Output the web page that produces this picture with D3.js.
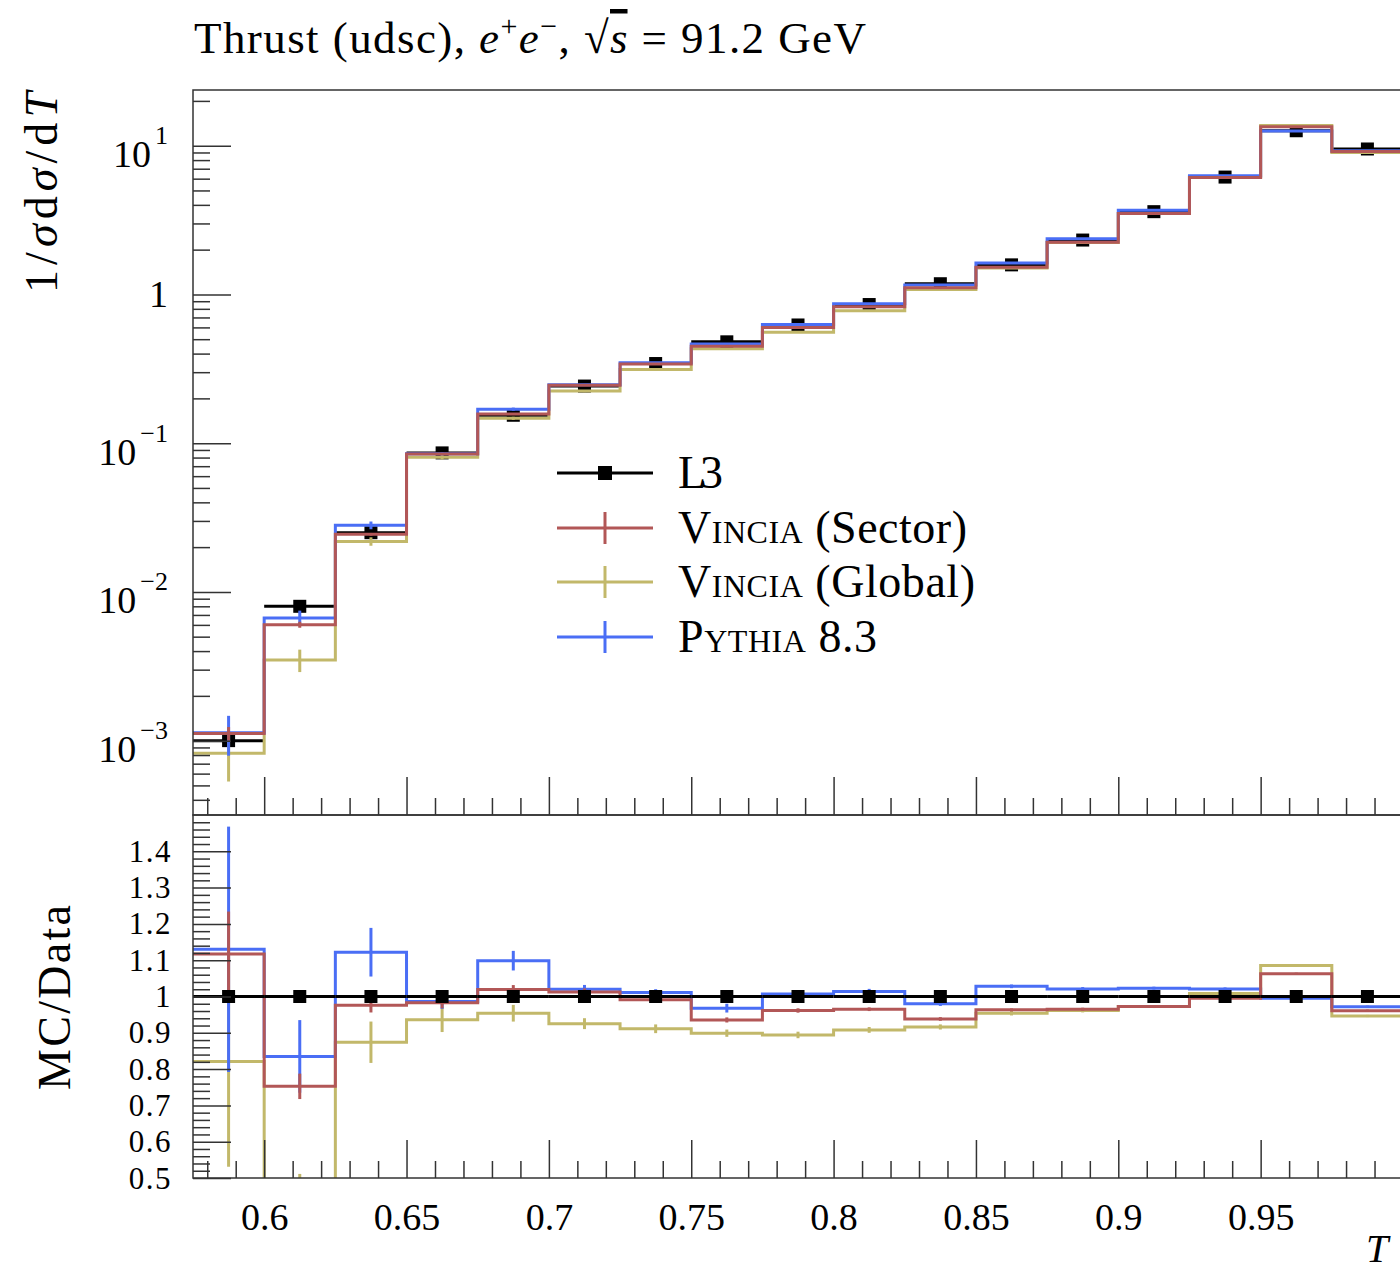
<!DOCTYPE html>
<html><head><meta charset="utf-8">
<script src="https://cdn.jsdelivr.net/npm/d3@7"></script>
<style>
html,body{margin:0;padding:0;background:#fff;}
svg text{font-family:"Liberation Serif","DejaVu Serif",serif;fill:#000;}
</style></head><body>
<svg id="chart" width="1400" height="1277"></svg>
<script>
// ---------- data ----------
const binEdges = [0.575, 0.6, 0.625, 0.65, 0.675, 0.7, 0.725, 0.75, 0.775, 0.8, 0.825, 0.85, 0.875, 0.9, 0.925, 0.95, 0.975, 1.0];
const l3Values   = [0.00100, 0.0080, 0.0250, 0.0860, 0.154, 0.242, 0.343, 0.480, 0.623, 0.855, 1.18, 1.58, 2.32, 3.60, 6.15, 12.6, 9.50];
const l3Errors   = [0.000015, 0.00012, 0.0004, 0.0013, 0.0023, 0.0036, 0.005, 0.007, 0.009, 0.012, 0.017, 0.022, 0.03, 0.05, 0.08, 0.17, 0.13];
const sectorValues = [0.001117, 0.00602, 0.0244, 0.0845, 0.157, 0.245, 0.340, 0.449, 0.599, 0.825, 1.107, 1.522, 2.239, 3.50, 6.12, 13.39, 9.13];
const sectorErrors = [0.000117, 0.00028, 0.0005, 0.00129, 0.00185, 0.00242, 0.00274, 0.00336, 0.00374, 0.00428, 0.0059, 0.0063, 0.0093, 0.0108, 0.0185, 0.0378, 0.0285];
const globalValues = [0.000821, 0.00349, 0.02185, 0.0805, 0.1469, 0.2239, 0.3125, 0.4315, 0.557, 0.7763, 1.081, 1.507, 2.230, 3.50, 6.20, 13.68, 8.99];
const globalErrors = [0.00029, 0.0006, 0.001425, 0.00292, 0.00354, 0.00363, 0.00412, 0.0048, 0.0056, 0.00684, 0.00826, 0.0095, 0.0116, 0.0144, 0.0246, 0.0378, 0.0285];
const pythiaValues = [0.00113, 0.00668, 0.02805, 0.0848, 0.1692, 0.2468, 0.3468, 0.4646, 0.6274, 0.867, 1.1564, 1.6242, 2.3687, 3.6828, 6.279, 12.537, 9.234];
const pythiaErrors = [0.000338, 0.0008, 0.001675, 0.00172, 0.00416, 0.0029, 0.0031, 0.0058, 0.005, 0.006, 0.0071, 0.0079, 0.0116, 0.0144, 0.0246, 0.0378, 0.0285];

const xTickValues = [0.6, 0.65, 0.7, 0.75, 0.8, 0.85, 0.9, 0.95];
const xTickLabels = ["0.6", "0.65", "0.7", "0.75", "0.8", "0.85", "0.9", "0.95"];
const yTickValues = [1e-3, 1e-2, 1e-1, 1, 10];
const yTickBase   = ["10", "10", "10", "1", "10"];
const yTickSup    = ["\u22123", "\u22122", "\u22121", "", "1"];
const rTickValues = [0.5, 0.6, 0.7, 0.8, 0.9, 1.0, 1.1, 1.2, 1.3, 1.4];
const rTickLabels = ["0.5", "0.6", "0.7", "0.8", "0.9", "1", "1.1", "1.2", "1.3", "1.4"];

const legendNames = ["L3", "Vincia", "Vincia", "Pythia"];
const legendSuffix = ["", " (Sector)", " (Global)", " 8.3"];

// ---------- layout ----------
const X0 = 193, X1 = 1403, MT = 90, MB = 815, RT = 815, RB = 1178;
const COL = {sector: "#b25757", global: "#c2b86a", pythia: "#4a6ef5", data: "#000", frame: "#333"};

const svg = d3.select("#chart");
svg.append("rect").attr("width", 1400).attr("height", 1277).attr("fill", "#fff");

const x = d3.scaleLinear().domain([binEdges[0], binEdges[binEdges.length - 1]]).range([X0, X1]);
const y = d3.scaleLog().domain([Math.pow(10, -3.5), Math.pow(10, 1.3743)]).range([MB, MT]);
const r = d3.scaleLinear().domain([0.5, 1.5]).range([RB, RT]);

const defs = svg.append("defs");
defs.append("clipPath").attr("id", "clipMain").append("rect").attr("x", X0).attr("y", MT).attr("width", X1 - X0).attr("height", MB - MT);
defs.append("clipPath").attr("id", "clipRatio").append("rect").attr("x", X0).attr("y", RT).attr("width", X1 - X0).attr("height", RB - RT);

const nb = l3Values.length;
const centers = d3.range(nb).map(i => (binEdges[i] + binEdges[i + 1]) / 2);

function stepPath(vals, sy) {
  const pts = vals.map((v, i) => [binEdges[i], v]);
  pts.push([binEdges[nb], vals[nb - 1]]);
  return d3.line().x(d => x(d[0])).y(d => sy(d[1])).curve(d3.curveStepAfter)(pts);
}

function drawMC(g, vals, errs, sy, color) {
  g.append("path").attr("d", stepPath(vals, sy)).attr("fill", "none").attr("stroke", color).attr("stroke-width", 3);
  g.selectAll(null).data(vals).enter().append("line")
    .attr("x1", (d, i) => x(centers[i])).attr("x2", (d, i) => x(centers[i]))
    .attr("y1", (d, i) => sy(Math.max(d - errs[i], 1e-9))).attr("y2", (d, i) => sy(d + errs[i]))
    .attr("stroke", color).attr("stroke-width", 3);
}

function drawData(g, vals, errs, sy) {
  g.selectAll(null).data(vals).enter().append("line")
    .attr("x1", (d, i) => x(binEdges[i])).attr("x2", (d, i) => x(binEdges[i + 1]))
    .attr("y1", d => sy(d)).attr("y2", d => sy(d))
    .attr("stroke", COL.data).attr("stroke-width", 3);
  g.selectAll(null).data(vals).enter().append("line")
    .attr("x1", (d, i) => x(centers[i])).attr("x2", (d, i) => x(centers[i]))
    .attr("y1", (d, i) => sy(d - errs[i])).attr("y2", (d, i) => sy(d + errs[i]))
    .attr("stroke", COL.data).attr("stroke-width", 3);
  g.selectAll(null).data(vals).enter().append("rect")
    .attr("x", (d, i) => x(centers[i]) - 6.5).attr("y", d => sy(d) - 6.5)
    .attr("width", 13).attr("height", 13).attr("fill", COL.data);
}

// ---------- main panel ----------
const gMain = svg.append("g").attr("clip-path", "url(#clipMain)");
drawData(gMain, l3Values, l3Errors, y);
drawMC(gMain, globalValues, globalErrors, y, COL.global);
drawMC(gMain, pythiaValues, pythiaErrors, y, COL.pythia);
drawMC(gMain, sectorValues, sectorErrors, y, COL.sector);

// ---------- ratio panel ----------
const gRatio = svg.append("g").attr("clip-path", "url(#clipRatio)");
const ratio = (vals) => vals.map((v, i) => v / l3Values[i]);
const ratioErr = (errs) => errs.map((e, i) => e / l3Values[i]);
drawMC(gRatio, ratio(globalValues), ratioErr(globalErrors), r, COL.global);
drawMC(gRatio, ratio(pythiaValues), ratioErr(pythiaErrors), r, COL.pythia);
drawMC(gRatio, ratio(sectorValues), ratioErr(sectorErrors), r, COL.sector);
drawData(gRatio, ratio(l3Values), ratioErr(l3Errors), r);

// ---------- axes ----------
const axStyle = g => { g.selectAll("path.domain").remove(); g.selectAll(".tick line").attr("stroke", COL.frame).attr("stroke-width", 1.5); };

// main y minor ticks
const logMinor = [];
for (let k = -4; k <= 1; k++) for (let m = 2; m <= 9; m++) { const v = m * Math.pow(10, k); if (v > y.domain()[0] && v < y.domain()[1]) logMinor.push(v); }
svg.append("g").attr("transform", `translate(${X0},0)`)
  .call(d3.axisLeft(y).tickValues(logMinor).tickSizeInner(-17).tickSizeOuter(0).tickFormat(""))
  .call(axStyle);
const yAx = svg.append("g").attr("transform", `translate(${X0},0)`)
  .call(d3.axisLeft(y).tickValues(yTickValues).tickSizeInner(-38).tickSizeOuter(0).tickPadding(25).tickFormat(""))
  .call(axStyle);
yAx.selectAll(".tick").each(function (d, i) {
  const t = d3.select(this).select("text").attr("dy", null).attr("font-size", 38).attr("text-anchor", "end");
  t.text(null);
  if (yTickSup[i] === "") {
    t.attr("y", 12.5).text(yTickBase[i]);
  } else {
    t.attr("y", 21);
    t.append("tspan").text(yTickBase[i]);
    t.append("tspan").attr("dx", 4).attr("dy", -23).attr("font-size", 26).text(yTickSup[i]);
  }
});

// x minor ticks (0.01 spacing)
const xMinor = d3.range(58, 100).filter(v => v % 5 !== 0).map(v => v / 100);
[MB, RB].forEach(yy => {
  svg.append("g").attr("transform", `translate(0,${yy})`)
    .call(d3.axisBottom(x).tickValues(xMinor).tickSizeInner(-17).tickSizeOuter(0).tickFormat(""))
    .call(axStyle);
});
svg.append("g").attr("transform", `translate(0,${MB})`)
  .call(d3.axisBottom(x).tickValues(xTickValues).tickSizeInner(-38).tickSizeOuter(0).tickFormat(""))
  .call(axStyle);
const xAx = svg.append("g").attr("transform", `translate(0,${RB})`)
  .call(d3.axisBottom(x).tickValues(xTickValues).tickSizeInner(-38).tickSizeOuter(0).tickFormat((d, i) => xTickLabels[i]))
  .call(axStyle);
xAx.selectAll(".tick text").attr("font-size", 38).attr("dy", null).attr("y", 52);

// ratio y ticks
const rMinor = d3.range(50, 151, 2).filter(v => v % 10 !== 0).map(v => v / 100);
svg.append("g").attr("transform", `translate(${X0},0)`)
  .call(d3.axisLeft(r).tickValues(rMinor).tickSizeInner(-17).tickSizeOuter(0).tickFormat(""))
  .call(axStyle);
const rAx = svg.append("g").attr("transform", `translate(${X0},0)`)
  .call(d3.axisLeft(r).tickValues(rTickValues).tickSizeInner(-38).tickSizeOuter(0).tickPadding(21).tickFormat((d, i) => rTickLabels[i]))
  .call(axStyle);
rAx.selectAll(".tick text").attr("font-size", 31).attr("dy", null).attr("y", 10).attr("letter-spacing", 1.5);

// frames
svg.append("rect").attr("x", X0).attr("y", MT).attr("width", X1 - X0).attr("height", MB - MT).attr("fill", "none").attr("stroke", COL.frame).attr("stroke-width", 1.5);
svg.append("rect").attr("x", X0).attr("y", RT).attr("width", X1 - X0).attr("height", RB - RT).attr("fill", "none").attr("stroke", COL.frame).attr("stroke-width", 1.5);

// ---------- titles ----------
const title = svg.append("text").attr("x", 194).attr("y", 53).attr("font-size", 45).attr("textLength", 672).attr("lengthAdjust", "spacing");
title.append("tspan").text("Thrust (udsc), ");
title.append("tspan").attr("font-style", "italic").text("e");
title.append("tspan").attr("dy", -17).attr("font-size", 30).text("+");
title.append("tspan").attr("dy", 17).attr("font-style", "italic").text("e");
title.append("tspan").attr("dy", -17).attr("font-size", 30).text("\u2212");
title.append("tspan").attr("dy", 17).text(", \u221A");
title.append("tspan").attr("font-style", "italic").style("text-decoration", "overline").text("s");
title.append("tspan").text(" = 91.2 GeV");

const yl = svg.append("text").attr("transform", "translate(57,192.5) rotate(-90)").attr("text-anchor", "middle")
  .attr("font-size", 46).attr("textLength", 201).attr("lengthAdjust", "spacing");
yl.append("tspan").text("1/");
yl.append("tspan").attr("font-style", "italic").text("\u03C3");
yl.append("tspan").text("d");
yl.append("tspan").attr("font-style", "italic").text("\u03C3");
yl.append("tspan").text("/d");
yl.append("tspan").attr("font-style", "italic").text("T");

svg.append("text").attr("transform", "translate(70,997.5) rotate(-90)").attr("text-anchor", "middle")
  .attr("font-size", 46).attr("textLength", 185).attr("lengthAdjust", "spacing").text("MC/Data");

svg.append("text").attr("x", 1366).attr("y", 1262).attr("font-size", 40).attr("font-style", "italic").text("T");

// ---------- legend ----------
const legRowY = [473, 528, 582, 637];
const legColors = [COL.data, COL.sector, COL.global, COL.pythia];
const legWidths = [45, 289, 297, 199];
const leg = svg.append("g");
legRowY.forEach((yy, i) => {
  leg.append("line").attr("x1", 557).attr("x2", 653).attr("y1", yy).attr("y2", yy).attr("stroke", legColors[i]).attr("stroke-width", 3);
  if (i === 0) {
    leg.append("rect").attr("x", 605 - 7).attr("y", yy - 7).attr("width", 14).attr("height", 14).attr("fill", COL.data);
  } else {
    leg.append("line").attr("x1", 605).attr("x2", 605).attr("y1", yy - 16).attr("y2", yy + 16).attr("stroke", legColors[i]).attr("stroke-width", 3);
  }
  const t = leg.append("text").attr("x", 678).attr("y", yy + 15).attr("font-size", 46)
    .attr("textLength", legWidths[i]).attr("lengthAdjust", "spacing");
  if (i === 0) t.text(legendNames[i]);
  else {
    t.append("tspan").style("font-variant", "small-caps").text(legendNames[i]);
    t.append("tspan").text(legendSuffix[i]);
  }
});
</script>
</body></html>
